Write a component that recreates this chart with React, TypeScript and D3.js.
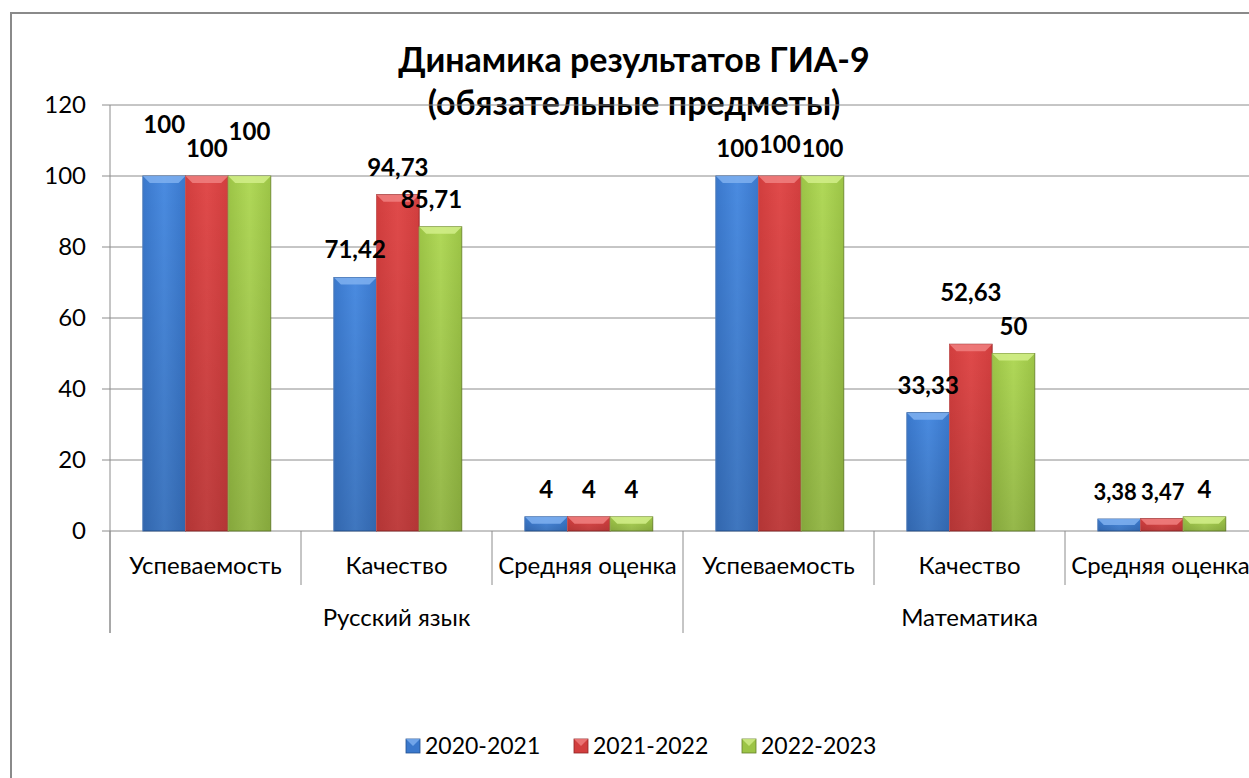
import React from "react";
import * as d3 from "d3";

const categories = ["Успеваемость", "Качество", "Средняя оценка", "Успеваемость", "Качество", "Средняя оценка"];
const groups = ["Русский язык", "Математика"];
const seriesNames = ["2020-2021", "2021-2022", "2022-2023"];
const s2021 = [100, 71.42, 4, 100, 33.33, 3.38];
const s2022 = [100, 94.73, 4, 100, 52.63, 3.47];
const s2023 = [100, 85.71, 4, 100, 50, 4];
const yTicks = [0, 20, 40, 60, 80, 100, 120];
const titleLines = ["Динамика результатов ГИА-9", "(обязательные предметы)"];

// label nudges (dx, dy) to mimic the reference's overlap handling
const nudges: Record<string, [number, number]> = {
  "0-0": [0, -24], "0-1": [0, 0], "0-2": [0, -17],
  "1-2": [-9, 0],
  "3-1": [0, -4],
  "4-1": [0, -24],
  "5-0": [-4, 0], "5-1": [1, 0],
};

const colors = [
  { top: "#4a8be0", mid: "#3a78cc", bot: "#2c5fa6", edge: "#23508f", hl: "#7fb0f0" },
  { top: "#e04a4a", mid: "#d23e3e", bot: "#a82c2c", edge: "#8e2424", hl: "#f08080" },
  { top: "#b0d858", mid: "#9cc446", bot: "#789a30", edge: "#657f2a", hl: "#d2ee8a" },
];

export default function App() {
  const W = 1249, H = 778;
  const series = [s2021, s2022, s2023];
  const x0 = d3.scaleBand<number>().domain(d3.range(categories.length)).range([110, 1256]);
  const bw = x0.bandwidth();
  const x1 = d3.scaleBand<number>().domain(d3.range(seriesNames.length)).range([bw * 0.172, bw * 0.842]);
  const y = d3.scaleLinear().domain([0, 120]).range([531, 105]);
  const font = "Lato, 'Open Sans', sans-serif";

  return (
    <div style={{ position: "absolute", left: 0, top: 0 }}>
      <svg width={W} height={H} style={{ display: "block" }}>
        <defs>
          {colors.map((c, i) => (
            <linearGradient key={i} id={`g${i}`} x1="0" y1="0" x2="1" y2="0">
              <stop offset="0" stopColor={c.mid} />
              <stop offset="0.5" stopColor={c.top} />
              <stop offset="1" stopColor={c.mid} />
            </linearGradient>
          ))}
          {colors.map((c, i) => (
            <linearGradient key={"v" + i} id={`v${i}`} x1="0" y1="0" x2="0" y2="1">
              <stop offset="0" stopColor="#000" stopOpacity={0} />
              <stop offset="1" stopColor="#000" stopOpacity={0.15} />
            </linearGradient>
          ))}
        </defs>
        <rect x={0} y={0} width={W} height={H} fill="#fff" />
        <rect x={11} y={13} width={1300} height={900} fill="none" stroke="#8a8a8a" strokeWidth={2} />

        {/* title */}
        {titleLines.map((t, i) => (
          <text key={i} x={634} y={72 + i * 43} textAnchor="middle" fontFamily={font} fontWeight="bold" fontSize={34} fill="#000">{t}</text>
        ))}

        {/* grid */}
        {yTicks.map((t) => (
          <g key={t}>
            <line x1={102} x2={1256} y1={y(t)} y2={y(t)} stroke="#8c8c8c" strokeWidth={1} />
            <text x={86} y={y(t)} dy="0.35em" textAnchor="end" fontFamily={font} fontSize={24} fill="#000">{t}</text>
          </g>
        ))}
        <line x1={110} x2={110} y1={105} y2={633} stroke="#8c8c8c" />

        {/* category separators */}
        {d3.range(categories.length + 1).map((i) => {
          const xx = 110 + i * bw;
          const long = i % 3 === 0;
          return <line key={i} x1={xx} x2={xx} y1={531} y2={long ? 633 : 585} stroke="#8c8c8c" />;
        })}
        {categories.map((c, i) => (
          <text key={i} x={(x0(i) as number) + bw / 2} y={574} textAnchor="middle" fontFamily={font} fontSize={24} fill="#000">{c}</text>
        ))}
        {groups.map((g, i) => (
          <text key={i} x={110 + bw * 1.5 + i * bw * 3} y={626} textAnchor="middle" fontFamily={font} fontSize={24} fill="#000">{g}</text>
        ))}

        {/* bars */}
        {series.map((vals, si) =>
          vals.map((v, ci) => {
            const bx = (x0(ci) as number) + (x1(si) as number);
            const w = x1.bandwidth();
            const top = y(v);
            const h = y(0) - top;
            const bev = Math.min(7, h / 2);
            const c = colors[si];
            return (
              <g key={`${si}-${ci}`}>
                <rect x={bx} y={top} width={w} height={h} fill={`url(#g${si})`} stroke={c.edge} strokeWidth={0.8} />
                <rect x={bx} y={top} width={w} height={h} fill={`url(#v${si})`} />
                <path d={`M${bx},${top} L${bx + w},${top} L${bx + w - bev},${top + bev} L${bx + bev},${top + bev} Z`} fill={c.hl} opacity={0.85} />
                <line x1={bx} x2={bx} y1={top} y2={top + h} stroke={c.hl} strokeOpacity={0.5} />
              </g>
            );
          })
        )}

        {/* labels */}
        {series.map((vals, si) =>
          vals.map((v, ci) => {
            const bx = (x0(ci) as number) + (x1(si) as number) + x1.bandwidth() / 2;
            const n = nudges[`${ci}-${si}`] || [0, 0];
            const small = ci === 5 && si < 2;
            return (
              <text key={`l${si}-${ci}`} x={bx + n[0]} y={y(v) - 19 + n[1]} textAnchor="middle" fontFamily={font} fontWeight="bold" fontSize={small ? 22 : 24} fill="#000">
                {String(v).replace(".", ",")}
              </text>
            );
          })
        )}

        {/* legend */}
        {seriesNames.map((s, i) => {
          const lx = 406 + i * 168;
          const c = colors[i];
          return (
            <g key={s}>
              <rect x={lx} y={739} width={14} height={14} fill={c.mid} stroke={c.edge} strokeWidth={0.8} />
              <path d={`M${lx},${739} L${lx + 14},${739} L${lx + 7},${746} Z`} fill={c.hl} opacity={0.8} />
              <text x={lx + 19} y={746} dy="0.35em" fontFamily={font} fontSize={23} fill="#000">{s}</text>
            </g>
          );
        })}
      </svg>
    </div>
  );
}
